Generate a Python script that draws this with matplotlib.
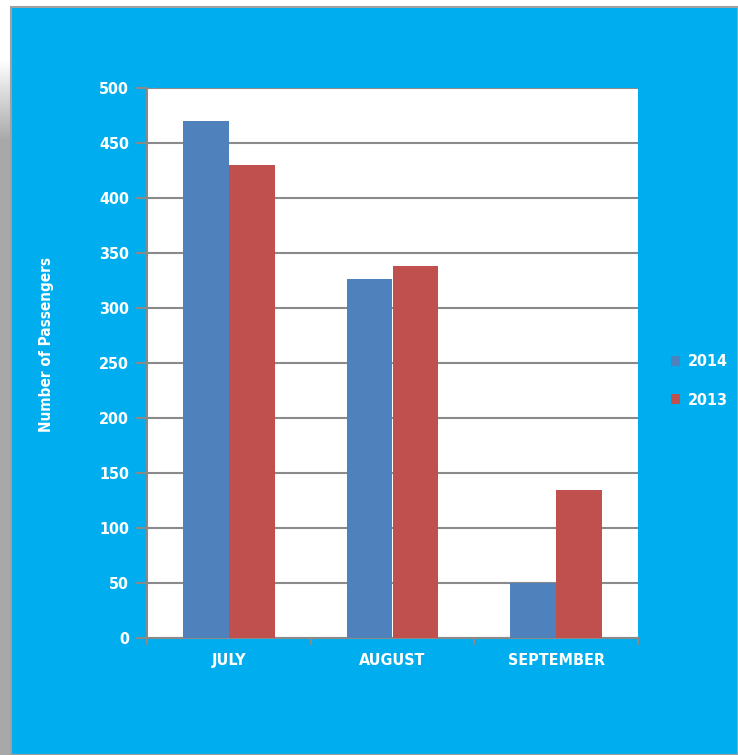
import numpy as np
import matplotlib
matplotlib.use("Agg")
import matplotlib.pyplot as plt
from matplotlib.patches import Rectangle

# Passenger counts per month
months = ["JULY", "AUGUST", "SEPTEMBER"]
passengers_2014 = [470, 326, 50]
passengers_2013 = [430, 338, 135]
y_ticks = [0, 50, 100, 150, 200, 250, 300, 350, 400, 450, 500]

BLUE_BG = "#00AEEF"
C2014 = "#4F81BD"
C2013 = "#C0504D"
GRID = "#8A8A8A"

plt.rcParams["font.family"] = ["DejaVu Sans"]
plt.rcParams["font.weight"] = "bold"
plt.rcParams["font.stretch"] = "condensed"

W, H = 738, 755
fig = plt.figure(figsize=(W / 100, H / 100), dpi=100, facecolor="white")

# grey strip on the left edge, fading from white at the top
strip = fig.add_axes([0, 0, 12 / W, 1], zorder=-5)
grad = np.ones((H, 1))
yy = np.arange(H)
grad[:, 0] = np.clip((yy - 60) / 80.0, 0, 1)
white = np.array([1.0, 1.0, 1.0])
grey = np.array([0xA8, 0xA8, 0xA8]) / 255
img = white[None, None, :] * (1 - grad[:, :, None]) + grey[None, None, :] * grad[:, :, None]
strip.imshow(img, aspect="auto", extent=[0, 1, 0, 1], origin="upper")
strip.set_axis_off()

# blue panel
fig.patches.append(Rectangle((11 / W, 0), 1 - 11 / W, 1 - 7 / H,
                             transform=fig.transFigure, facecolor=BLUE_BG,
                             edgecolor="#A0A0A0", linewidth=1.5, zorder=-1))

ax = fig.add_axes([147 / W, 1 - 638 / H, (638 - 147) / W, (638 - 88) / H], zorder=2)
ax.set_facecolor("white")

x = np.arange(len(months))
bw = 0.28
ax.bar(x - bw / 2, passengers_2014, bw, color=C2014, label="2014", zorder=3)
ax.bar(x + bw / 2, passengers_2013, bw, color=C2013, label="2013", zorder=3)

ax.set_xlim(-0.5, len(months) - 0.5)
ax.set_ylim(0, 500)
ax.set_yticks(y_ticks)
ax.yaxis.grid(True, color=GRID, linewidth=1.5, zorder=1)
ax.set_axisbelow(True)

for side in ["top", "right"]:
    ax.spines[side].set_visible(False)
for side in ["left", "bottom"]:
    ax.spines[side].set_color(GRID)
    ax.spines[side].set_linewidth(1.5)

ax.tick_params(axis="y", colors=GRID, labelcolor="white", length=8, width=1.5,
               pad=5, labelsize=11.5, direction="out")
ax.set_xticks(x)
ax.set_xticklabels(months)
ax.set_xticks(np.arange(-0.5, len(months)), minor=True)
ax.tick_params(axis="x", which="major", length=0, pad=11, labelcolor="white",
               labelsize=11.5)
ax.tick_params(axis="x", which="minor", length=5, width=1.5, color=GRID,
               direction="out")

fig.text(47 / W, 1 - 344 / H, "Number of Passengers", rotation=90,
         color="white", fontsize=11, fontweight="bold",
         ha="center", va="center")

leg = fig.legend(loc="center left", bbox_to_anchor=(671 / W, 1 - 381 / H),
                 frameon=False, fontsize=11.5, handlelength=0.55,
                 handleheight=0.55, handletextpad=0.5, labelspacing=1.45,
                 borderpad=0, borderaxespad=0)
for t in leg.get_texts():
    t.set_color("white")

fig.savefig("out.png", dpi=100, facecolor=fig.get_facecolor())
